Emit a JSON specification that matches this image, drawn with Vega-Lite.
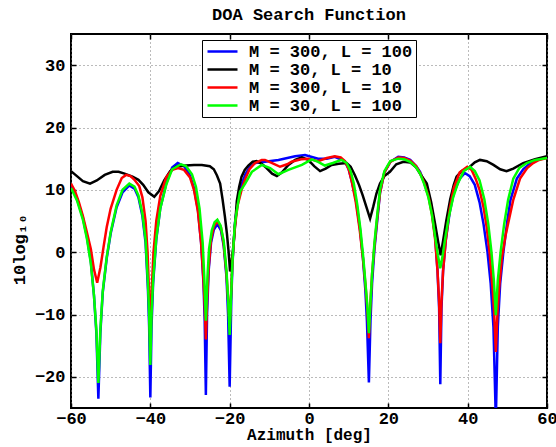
{
"$schema":"https://vega.github.io/schema/vega-lite/v6.json",
"width":476,"height":374,
"autosize":{"type":"none"},
"padding":{"left":71,"top":34,"right":9,"bottom":39},
"background":"white",
"title":{"text":"DOA Search Function","font":"Liberation Mono","fontSize":17,"fontWeight":"bold","anchor":"middle","frame":"group","offset":9,"color":"black"},
"config":{"view":{"stroke":"black","strokeWidth":2},
"axis":{"labelFont":"Liberation Mono","labelFontSize":17,"labelFontWeight":"bold","labelColor":"black","labelFlush":false,"titleFont":"Liberation Mono","titleFontSize":17,"titleFontWeight":"bold","titleColor":"black","tickColor":"black","tickWidth":1.5,"tickSize":-5,"domain":false,"gridColor":"#777777","gridDash":[1,3],"gridWidth":1}},
"datasets":{"d":[
{"s":"M = 300, L = 100","az":-60,"v":10.5},{"s":"M = 300, L = 100","az":-58.5,"v":8.6},{"s":"M = 300, L = 100","az":-57,"v":5.5},{"s":"M = 300, L = 100","az":-56,"v":2.5},{"s":"M = 300, L = 100","az":-55,"v":-1.5},{"s":"M = 300, L = 100","az":-54.2,"v":-7},{"s":"M = 300, L = 100","az":-53.6,"v":-13},{"s":"M = 300, L = 100","az":-53.1,"v":-23.5},{"s":"M = 300, L = 100","az":-52.6,"v":-13},{"s":"M = 300, L = 100","az":-52,"v":-6.5},{"s":"M = 300, L = 100","az":-51,"v":-1},{"s":"M = 300, L = 100","az":-50,"v":3},{"s":"M = 300, L = 100","az":-48.5,"v":7.2},{"s":"M = 300, L = 100","az":-47,"v":9.6},{"s":"M = 300, L = 100","az":-45.3,"v":10.7},{"s":"M = 300, L = 100","az":-44,"v":10.2},{"s":"M = 300, L = 100","az":-43,"v":8.8},{"s":"M = 300, L = 100","az":-42,"v":5.8},{"s":"M = 300, L = 100","az":-41.2,"v":1.5},{"s":"M = 300, L = 100","az":-40.6,"v":-6},{"s":"M = 300, L = 100","az":-40.3,"v":-12},{"s":"M = 300, L = 100","az":-40,"v":-23.3},{"s":"M = 300, L = 100","az":-39.7,"v":-12},{"s":"M = 300, L = 100","az":-39.3,"v":-5},{"s":"M = 300, L = 100","az":-38.5,"v":2},{"s":"M = 300, L = 100","az":-37.5,"v":7},{"s":"M = 300, L = 100","az":-36,"v":11},{"s":"M = 300, L = 100","az":-34.5,"v":13.6},{"s":"M = 300, L = 100","az":-33.1,"v":14.3},{"s":"M = 300, L = 100","az":-31.5,"v":13.8},{"s":"M = 300, L = 100","az":-30,"v":12.3},{"s":"M = 300, L = 100","az":-29,"v":10.3},{"s":"M = 300, L = 100","az":-28,"v":6.8},{"s":"M = 300, L = 100","az":-27.2,"v":1.5},{"s":"M = 300, L = 100","az":-26.6,"v":-5},{"s":"M = 300, L = 100","az":-26.3,"v":-11},{"s":"M = 300, L = 100","az":-26,"v":-22.9},{"s":"M = 300, L = 100","az":-25.7,"v":-10},{"s":"M = 300, L = 100","az":-25.3,"v":-3},{"s":"M = 300, L = 100","az":-24.7,"v":1.5},{"s":"M = 300, L = 100","az":-24,"v":3.6},{"s":"M = 300, L = 100","az":-23.1,"v":4.5},{"s":"M = 300, L = 100","az":-22.2,"v":3.5},{"s":"M = 300, L = 100","az":-21.5,"v":1},{"s":"M = 300, L = 100","az":-20.8,"v":-4},{"s":"M = 300, L = 100","az":-20.4,"v":-10},{"s":"M = 300, L = 100","az":-20,"v":-21.6},{"s":"M = 300, L = 100","az":-19.6,"v":-8},{"s":"M = 300, L = 100","az":-19.3,"v":-2},{"s":"M = 300, L = 100","az":-18.7,"v":4.5},{"s":"M = 300, L = 100","az":-18,"v":8},{"s":"M = 300, L = 100","az":-17,"v":10.8},{"s":"M = 300, L = 100","az":-16.1,"v":12.4},{"s":"M = 300, L = 100","az":-15,"v":13.6},{"s":"M = 300, L = 100","az":-13.6,"v":14.3},{"s":"M = 300, L = 100","az":-11.1,"v":14.5},{"s":"M = 300, L = 100","az":-7.7,"v":14.8},{"s":"M = 300, L = 100","az":-3.5,"v":15.4},{"s":"M = 300, L = 100","az":-1,"v":15.6},{"s":"M = 300, L = 100","az":2.3,"v":15},{"s":"M = 300, L = 100","az":4.5,"v":15},{"s":"M = 300, L = 100","az":6.5,"v":15.3},{"s":"M = 300, L = 100","az":9,"v":14.6},{"s":"M = 300, L = 100","az":10,"v":13.3},{"s":"M = 300, L = 100","az":10.8,"v":11.3},{"s":"M = 300, L = 100","az":11.8,"v":8.5},{"s":"M = 300, L = 100","az":12.8,"v":4},{"s":"M = 300, L = 100","az":13.6,"v":-1},{"s":"M = 300, L = 100","az":14.2,"v":-6},{"s":"M = 300, L = 100","az":14.6,"v":-11},{"s":"M = 300, L = 100","az":15.1,"v":-20.9},{"s":"M = 300, L = 100","az":15.5,"v":-11},{"s":"M = 300, L = 100","az":15.9,"v":-5},{"s":"M = 300, L = 100","az":16.5,"v":0.5},{"s":"M = 300, L = 100","az":17.2,"v":5},{"s":"M = 300, L = 100","az":17.9,"v":9.5},{"s":"M = 300, L = 100","az":19,"v":12.8},{"s":"M = 300, L = 100","az":20.5,"v":14.5},{"s":"M = 300, L = 100","az":22.5,"v":15.3},{"s":"M = 300, L = 100","az":24,"v":15.2},{"s":"M = 300, L = 100","az":25.5,"v":14.8},{"s":"M = 300, L = 100","az":27,"v":13.8},{"s":"M = 300, L = 100","az":28,"v":12.9},{"s":"M = 300, L = 100","az":29,"v":11.3},{"s":"M = 300, L = 100","az":30.1,"v":9.2},{"s":"M = 300, L = 100","az":31,"v":6.5},{"s":"M = 300, L = 100","az":31.8,"v":2.5},{"s":"M = 300, L = 100","az":32.4,"v":-3},{"s":"M = 300, L = 100","az":32.8,"v":-9},{"s":"M = 300, L = 100","az":33.1,"v":-21.2},{"s":"M = 300, L = 100","az":33.4,"v":-9},{"s":"M = 300, L = 100","az":33.8,"v":-3},{"s":"M = 300, L = 100","az":34.5,"v":2},{"s":"M = 300, L = 100","az":35.5,"v":6.5},{"s":"M = 300, L = 100","az":36.5,"v":9.5},{"s":"M = 300, L = 100","az":38,"v":11.8},{"s":"M = 300, L = 100","az":39.3,"v":12.7},{"s":"M = 300, L = 100","az":40.5,"v":12.2},{"s":"M = 300, L = 100","az":41.8,"v":10.8},{"s":"M = 300, L = 100","az":43,"v":8},{"s":"M = 300, L = 100","az":44,"v":4.5},{"s":"M = 300, L = 100","az":45,"v":0},{"s":"M = 300, L = 100","az":45.8,"v":-5},{"s":"M = 300, L = 100","az":46.5,"v":-12},{"s":"M = 300, L = 100","az":47.1,"v":-27},{"s":"M = 300, L = 100","az":47.6,"v":-12},{"s":"M = 300, L = 100","az":48.2,"v":-5},{"s":"M = 300, L = 100","az":49,"v":0},{"s":"M = 300, L = 100","az":50,"v":5},{"s":"M = 300, L = 100","az":50.8,"v":8.4},{"s":"M = 300, L = 100","az":52.4,"v":11.8},{"s":"M = 300, L = 100","az":54,"v":13.3},{"s":"M = 300, L = 100","az":55.8,"v":14.3},{"s":"M = 300, L = 100","az":58,"v":14.9},{"s":"M = 300, L = 100","az":60,"v":15.2},
{"s":"M = 30, L = 10","az":-60,"v":13},{"s":"M = 30, L = 10","az":-58.5,"v":12.2},{"s":"M = 30, L = 10","az":-57,"v":11.4},{"s":"M = 30, L = 10","az":-55.2,"v":11},{"s":"M = 30, L = 10","az":-53.5,"v":11.5},{"s":"M = 30, L = 10","az":-51.5,"v":12.4},{"s":"M = 30, L = 10","az":-49.5,"v":12.9},{"s":"M = 30, L = 10","az":-48,"v":12.9},{"s":"M = 30, L = 10","az":-46.5,"v":12.6},{"s":"M = 30, L = 10","az":-44.5,"v":12.1},{"s":"M = 30, L = 10","az":-43,"v":11.6},{"s":"M = 30, L = 10","az":-41.8,"v":10.8},{"s":"M = 30, L = 10","az":-40.5,"v":9.6},{"s":"M = 30, L = 10","az":-39,"v":8.9},{"s":"M = 30, L = 10","az":-37.8,"v":9.8},{"s":"M = 30, L = 10","az":-36.5,"v":11.5},{"s":"M = 30, L = 10","az":-35,"v":13},{"s":"M = 30, L = 10","az":-33.5,"v":13.7},{"s":"M = 30, L = 10","az":-31,"v":13.9},{"s":"M = 30, L = 10","az":-29,"v":14},{"s":"M = 30, L = 10","az":-27,"v":14},{"s":"M = 30, L = 10","az":-25,"v":13.8},{"s":"M = 30, L = 10","az":-24,"v":13.3},{"s":"M = 30, L = 10","az":-23.2,"v":12.3},{"s":"M = 30, L = 10","az":-22.4,"v":11},{"s":"M = 30, L = 10","az":-21.8,"v":8.5},{"s":"M = 30, L = 10","az":-21.2,"v":5.7},{"s":"M = 30, L = 10","az":-20.7,"v":3},{"s":"M = 30, L = 10","az":-20.3,"v":0.3},{"s":"M = 30, L = 10","az":-19.9,"v":-3.1},{"s":"M = 30, L = 10","az":-19.5,"v":-1.5},{"s":"M = 30, L = 10","az":-19.1,"v":0.8},{"s":"M = 30, L = 10","az":-18.6,"v":4.5},{"s":"M = 30, L = 10","az":-18.2,"v":8.2},{"s":"M = 30, L = 10","az":-17.6,"v":10.5},{"s":"M = 30, L = 10","az":-17,"v":12.1},{"s":"M = 30, L = 10","az":-16.2,"v":13.2},{"s":"M = 30, L = 10","az":-15.3,"v":13.9},{"s":"M = 30, L = 10","az":-14.2,"v":14.5},{"s":"M = 30, L = 10","az":-13.2,"v":14.6},{"s":"M = 30, L = 10","az":-12,"v":14.2},{"s":"M = 30, L = 10","az":-10.7,"v":13.5},{"s":"M = 30, L = 10","az":-9.3,"v":12.6},{"s":"M = 30, L = 10","az":-8.1,"v":12.2},{"s":"M = 30, L = 10","az":-6.8,"v":12.8},{"s":"M = 30, L = 10","az":-5.2,"v":14},{"s":"M = 30, L = 10","az":-3.5,"v":14.8},{"s":"M = 30, L = 10","az":-1.8,"v":15.2},{"s":"M = 30, L = 10","az":-0.2,"v":14.8},{"s":"M = 30, L = 10","az":1.3,"v":13.8},{"s":"M = 30, L = 10","az":2.8,"v":13},{"s":"M = 30, L = 10","az":4.2,"v":13.4},{"s":"M = 30, L = 10","az":5.7,"v":14},{"s":"M = 30, L = 10","az":7.5,"v":14.2},{"s":"M = 30, L = 10","az":9.5,"v":14.3},{"s":"M = 30, L = 10","az":10.5,"v":13.7},{"s":"M = 30, L = 10","az":11.6,"v":12.3},{"s":"M = 30, L = 10","az":12.6,"v":10.8},{"s":"M = 30, L = 10","az":13.5,"v":9.2},{"s":"M = 30, L = 10","az":14.5,"v":7.2},{"s":"M = 30, L = 10","az":15.4,"v":5.4},{"s":"M = 30, L = 10","az":16.2,"v":7.3},{"s":"M = 30, L = 10","az":17,"v":9.4},{"s":"M = 30, L = 10","az":17.9,"v":11},{"s":"M = 30, L = 10","az":19,"v":12.2},{"s":"M = 30, L = 10","az":20.4,"v":12.9},{"s":"M = 30, L = 10","az":22,"v":14.1},{"s":"M = 30, L = 10","az":23.8,"v":14.5},{"s":"M = 30, L = 10","az":25.5,"v":14.4},{"s":"M = 30, L = 10","az":27,"v":13.6},{"s":"M = 30, L = 10","az":28.1,"v":12.5},{"s":"M = 30, L = 10","az":29.7,"v":11},{"s":"M = 30, L = 10","az":30.8,"v":8},{"s":"M = 30, L = 10","az":31.8,"v":4.5},{"s":"M = 30, L = 10","az":32.6,"v":1.5},{"s":"M = 30, L = 10","az":33.2,"v":-0.5},{"s":"M = 30, L = 10","az":33.8,"v":1.8},{"s":"M = 30, L = 10","az":34.6,"v":5},{"s":"M = 30, L = 10","az":35.6,"v":8.5},{"s":"M = 30, L = 10","az":36.5,"v":10.8},{"s":"M = 30, L = 10","az":37.2,"v":12.1},{"s":"M = 30, L = 10","az":38.5,"v":13},{"s":"M = 30, L = 10","az":40.2,"v":13.5},{"s":"M = 30, L = 10","az":41.8,"v":14.4},{"s":"M = 30, L = 10","az":43.1,"v":14.8},{"s":"M = 30, L = 10","az":44.8,"v":14.6},{"s":"M = 30, L = 10","az":46.5,"v":14},{"s":"M = 30, L = 10","az":48.2,"v":13.3},{"s":"M = 30, L = 10","az":49.8,"v":13},{"s":"M = 30, L = 10","az":51.5,"v":13.4},{"s":"M = 30, L = 10","az":54,"v":14.3},{"s":"M = 30, L = 10","az":57,"v":14.9},{"s":"M = 30, L = 10","az":60,"v":15.4},
{"s":"M = 300, L = 10","az":-60,"v":11},{"s":"M = 300, L = 10","az":-59,"v":9.8},{"s":"M = 300, L = 10","az":-58,"v":8},{"s":"M = 300, L = 10","az":-57,"v":5.8},{"s":"M = 300, L = 10","az":-56,"v":3.2},{"s":"M = 300, L = 10","az":-55,"v":0.5},{"s":"M = 300, L = 10","az":-54.2,"v":-2.8},{"s":"M = 300, L = 10","az":-53.4,"v":-4.9},{"s":"M = 300, L = 10","az":-52.6,"v":-2.5},{"s":"M = 300, L = 10","az":-51.8,"v":0.8},{"s":"M = 300, L = 10","az":-51,"v":4},{"s":"M = 300, L = 10","az":-50,"v":7},{"s":"M = 300, L = 10","az":-48.5,"v":10},{"s":"M = 300, L = 10","az":-47.2,"v":11.9},{"s":"M = 300, L = 10","az":-46.1,"v":12.4},{"s":"M = 300, L = 10","az":-45,"v":12.2},{"s":"M = 300, L = 10","az":-44,"v":11.6},{"s":"M = 300, L = 10","az":-42.8,"v":10.6},{"s":"M = 300, L = 10","az":-42,"v":8.8},{"s":"M = 300, L = 10","az":-41.2,"v":5},{"s":"M = 300, L = 10","az":-40.7,"v":0},{"s":"M = 300, L = 10","az":-40.35,"v":-6},{"s":"M = 300, L = 10","az":-40,"v":-15},{"s":"M = 300, L = 10","az":-39.65,"v":-6},{"s":"M = 300, L = 10","az":-39.2,"v":0},{"s":"M = 300, L = 10","az":-38.5,"v":5},{"s":"M = 300, L = 10","az":-37.5,"v":9},{"s":"M = 300, L = 10","az":-36,"v":12},{"s":"M = 300, L = 10","az":-34.5,"v":13.2},{"s":"M = 300, L = 10","az":-33,"v":13.5},{"s":"M = 300, L = 10","az":-31.5,"v":13.2},{"s":"M = 300, L = 10","az":-30,"v":12},{"s":"M = 300, L = 10","az":-29,"v":10},{"s":"M = 300, L = 10","az":-28,"v":6.5},{"s":"M = 300, L = 10","az":-27.2,"v":1.5},{"s":"M = 300, L = 10","az":-26.6,"v":-4.5},{"s":"M = 300, L = 10","az":-26.3,"v":-8.5},{"s":"M = 300, L = 10","az":-26,"v":-14},{"s":"M = 300, L = 10","az":-25.7,"v":-8},{"s":"M = 300, L = 10","az":-25.3,"v":-2.5},{"s":"M = 300, L = 10","az":-24.7,"v":2},{"s":"M = 300, L = 10","az":-24,"v":4.1},{"s":"M = 300, L = 10","az":-23.1,"v":5},{"s":"M = 300, L = 10","az":-22.2,"v":4},{"s":"M = 300, L = 10","az":-21.5,"v":1.3},{"s":"M = 300, L = 10","az":-20.8,"v":-3.5},{"s":"M = 300, L = 10","az":-20.4,"v":-7.5},{"s":"M = 300, L = 10","az":-20,"v":-12},{"s":"M = 300, L = 10","az":-19.6,"v":-6},{"s":"M = 300, L = 10","az":-19.3,"v":-1.5},{"s":"M = 300, L = 10","az":-18.7,"v":4},{"s":"M = 300, L = 10","az":-18,"v":7.5},{"s":"M = 300, L = 10","az":-17,"v":10},{"s":"M = 300, L = 10","az":-16.1,"v":11.7},{"s":"M = 300, L = 10","az":-15,"v":13.3},{"s":"M = 300, L = 10","az":-13.6,"v":14.3},{"s":"M = 300, L = 10","az":-11.9,"v":14.8},{"s":"M = 300, L = 10","az":-11.1,"v":14.8},{"s":"M = 300, L = 10","az":-9,"v":14.2},{"s":"M = 300, L = 10","az":-7.3,"v":13.7},{"s":"M = 300, L = 10","az":-5.5,"v":14.1},{"s":"M = 300, L = 10","az":-4.4,"v":14.5},{"s":"M = 300, L = 10","az":-2,"v":14.9},{"s":"M = 300, L = 10","az":-0.2,"v":15},{"s":"M = 300, L = 10","az":2.3,"v":14.6},{"s":"M = 300, L = 10","az":4.5,"v":15.1},{"s":"M = 300, L = 10","az":6.5,"v":15.4},{"s":"M = 300, L = 10","az":8,"v":15.2},{"s":"M = 300, L = 10","az":9.1,"v":14.6},{"s":"M = 300, L = 10","az":10,"v":13.3},{"s":"M = 300, L = 10","az":10.8,"v":11.3},{"s":"M = 300, L = 10","az":11.8,"v":8},{"s":"M = 300, L = 10","az":12.8,"v":3.5},{"s":"M = 300, L = 10","az":13.6,"v":-1},{"s":"M = 300, L = 10","az":14.2,"v":-5},{"s":"M = 300, L = 10","az":14.7,"v":-9},{"s":"M = 300, L = 10","az":15.1,"v":-13.8},{"s":"M = 300, L = 10","az":15.5,"v":-8},{"s":"M = 300, L = 10","az":15.9,"v":-3.5},{"s":"M = 300, L = 10","az":16.5,"v":1},{"s":"M = 300, L = 10","az":17.2,"v":5.5},{"s":"M = 300, L = 10","az":17.9,"v":9.5},{"s":"M = 300, L = 10","az":19,"v":12.8},{"s":"M = 300, L = 10","az":20.5,"v":14.5},{"s":"M = 300, L = 10","az":22.5,"v":15.2},{"s":"M = 300, L = 10","az":24,"v":15.1},{"s":"M = 300, L = 10","az":25.5,"v":14.7},{"s":"M = 300, L = 10","az":27,"v":13.8},{"s":"M = 300, L = 10","az":28,"v":12.7},{"s":"M = 300, L = 10","az":29,"v":11.2},{"s":"M = 300, L = 10","az":30.1,"v":9},{"s":"M = 300, L = 10","az":31,"v":6},{"s":"M = 300, L = 10","az":31.8,"v":2},{"s":"M = 300, L = 10","az":32.4,"v":-3},{"s":"M = 300, L = 10","az":32.8,"v":-8},{"s":"M = 300, L = 10","az":33.1,"v":-14.6},{"s":"M = 300, L = 10","az":33.4,"v":-8},{"s":"M = 300, L = 10","az":33.8,"v":-3},{"s":"M = 300, L = 10","az":34.5,"v":2},{"s":"M = 300, L = 10","az":35.5,"v":7},{"s":"M = 300, L = 10","az":36.5,"v":10.3},{"s":"M = 300, L = 10","az":38,"v":12.8},{"s":"M = 300, L = 10","az":39.9,"v":13.7},{"s":"M = 300, L = 10","az":41,"v":13.2},{"s":"M = 300, L = 10","az":42,"v":11.8},{"s":"M = 300, L = 10","az":43,"v":10},{"s":"M = 300, L = 10","az":44,"v":7.2},{"s":"M = 300, L = 10","az":44.8,"v":4},{"s":"M = 300, L = 10","az":45.6,"v":-0.5},{"s":"M = 300, L = 10","az":46.3,"v":-6},{"s":"M = 300, L = 10","az":46.7,"v":-10},{"s":"M = 300, L = 10","az":47.1,"v":-16},{"s":"M = 300, L = 10","az":47.5,"v":-10},{"s":"M = 300, L = 10","az":47.9,"v":-6},{"s":"M = 300, L = 10","az":48.6,"v":-1},{"s":"M = 300, L = 10","az":49.5,"v":2.5},{"s":"M = 300, L = 10","az":50.5,"v":5.5},{"s":"M = 300, L = 10","az":51.5,"v":8.4},{"s":"M = 300, L = 10","az":53.2,"v":11.8},{"s":"M = 300, L = 10","az":55,"v":13.5},{"s":"M = 300, L = 10","az":56.5,"v":14.3},{"s":"M = 300, L = 10","az":58,"v":14.8},{"s":"M = 300, L = 10","az":60,"v":15.1},
{"s":"M = 30, L = 100","az":-60,"v":10.3},{"s":"M = 30, L = 100","az":-58.5,"v":8.3},{"s":"M = 30, L = 100","az":-57,"v":5.2},{"s":"M = 30, L = 100","az":-56,"v":2.2},{"s":"M = 30, L = 100","az":-55,"v":-1.8},{"s":"M = 30, L = 100","az":-54.2,"v":-7},{"s":"M = 30, L = 100","az":-53.6,"v":-12.5},{"s":"M = 30, L = 100","az":-53.1,"v":-21},{"s":"M = 30, L = 100","az":-52.6,"v":-12.5},{"s":"M = 30, L = 100","az":-52,"v":-6.3},{"s":"M = 30, L = 100","az":-51,"v":-0.8},{"s":"M = 30, L = 100","az":-50,"v":3.2},{"s":"M = 30, L = 100","az":-48.5,"v":7.5},{"s":"M = 30, L = 100","az":-47,"v":10},{"s":"M = 30, L = 100","az":-45.3,"v":11},{"s":"M = 30, L = 100","az":-44,"v":10.5},{"s":"M = 30, L = 100","az":-43,"v":9.1},{"s":"M = 30, L = 100","az":-42,"v":6.2},{"s":"M = 30, L = 100","az":-41.2,"v":2},{"s":"M = 30, L = 100","az":-40.6,"v":-5},{"s":"M = 30, L = 100","az":-40.3,"v":-10},{"s":"M = 30, L = 100","az":-40,"v":-18.1},{"s":"M = 30, L = 100","az":-39.7,"v":-10},{"s":"M = 30, L = 100","az":-39.3,"v":-4.5},{"s":"M = 30, L = 100","az":-38.5,"v":2.2},{"s":"M = 30, L = 100","az":-37.5,"v":7},{"s":"M = 30, L = 100","az":-36,"v":10.8},{"s":"M = 30, L = 100","az":-34.5,"v":13.3},{"s":"M = 30, L = 100","az":-32.3,"v":14.1},{"s":"M = 30, L = 100","az":-31,"v":13.8},{"s":"M = 30, L = 100","az":-29.5,"v":12.5},{"s":"M = 30, L = 100","az":-28.5,"v":10.5},{"s":"M = 30, L = 100","az":-27.6,"v":7},{"s":"M = 30, L = 100","az":-26.8,"v":1.5},{"s":"M = 30, L = 100","az":-26.4,"v":-4},{"s":"M = 30, L = 100","az":-26,"v":-11},{"s":"M = 30, L = 100","az":-25.6,"v":-4},{"s":"M = 30, L = 100","az":-25.2,"v":0.5},{"s":"M = 30, L = 100","az":-24.5,"v":3.5},{"s":"M = 30, L = 100","az":-23.8,"v":4.8},{"s":"M = 30, L = 100","az":-23.1,"v":5.2},{"s":"M = 30, L = 100","az":-22.3,"v":4.3},{"s":"M = 30, L = 100","az":-21.5,"v":1.8},{"s":"M = 30, L = 100","az":-20.8,"v":-3},{"s":"M = 30, L = 100","az":-20.4,"v":-7.5},{"s":"M = 30, L = 100","az":-20,"v":-13.3},{"s":"M = 30, L = 100","az":-19.6,"v":-6.5},{"s":"M = 30, L = 100","az":-19.3,"v":-1.5},{"s":"M = 30, L = 100","az":-18.7,"v":4.5},{"s":"M = 30, L = 100","az":-18,"v":7.5},{"s":"M = 30, L = 100","az":-17.4,"v":9.7},{"s":"M = 30, L = 100","az":-16.1,"v":11},{"s":"M = 30, L = 100","az":-14.4,"v":12.9},{"s":"M = 30, L = 100","az":-11.9,"v":14},{"s":"M = 30, L = 100","az":-9.8,"v":13.5},{"s":"M = 30, L = 100","az":-7.7,"v":12.5},{"s":"M = 30, L = 100","az":-5.2,"v":13.2},{"s":"M = 30, L = 100","az":-1.8,"v":14},{"s":"M = 30, L = 100","az":0.7,"v":14.9},{"s":"M = 30, L = 100","az":2.3,"v":14.5},{"s":"M = 30, L = 100","az":4,"v":13.9},{"s":"M = 30, L = 100","az":6,"v":14.3},{"s":"M = 30, L = 100","az":8.2,"v":14.8},{"s":"M = 30, L = 100","az":9.5,"v":14.3},{"s":"M = 30, L = 100","az":10.5,"v":13},{"s":"M = 30, L = 100","az":11.3,"v":11},{"s":"M = 30, L = 100","az":12.2,"v":7.5},{"s":"M = 30, L = 100","az":13,"v":3.5},{"s":"M = 30, L = 100","az":13.7,"v":-1},{"s":"M = 30, L = 100","az":14.3,"v":-5.5},{"s":"M = 30, L = 100","az":14.7,"v":-8.5},{"s":"M = 30, L = 100","az":15.1,"v":-13},{"s":"M = 30, L = 100","az":15.5,"v":-8},{"s":"M = 30, L = 100","az":15.9,"v":-3.5},{"s":"M = 30, L = 100","az":16.5,"v":1.5},{"s":"M = 30, L = 100","az":17.2,"v":6},{"s":"M = 30, L = 100","az":17.9,"v":10},{"s":"M = 30, L = 100","az":19,"v":13},{"s":"M = 30, L = 100","az":20.5,"v":14.6},{"s":"M = 30, L = 100","az":22.5,"v":15},{"s":"M = 30, L = 100","az":24,"v":14.9},{"s":"M = 30, L = 100","az":25.5,"v":14.5},{"s":"M = 30, L = 100","az":27,"v":13.6},{"s":"M = 30, L = 100","az":28,"v":12.6},{"s":"M = 30, L = 100","az":29,"v":11},{"s":"M = 30, L = 100","az":30.1,"v":8.8},{"s":"M = 30, L = 100","az":31,"v":6},{"s":"M = 30, L = 100","az":31.8,"v":2.5},{"s":"M = 30, L = 100","az":32.5,"v":-0.5},{"s":"M = 30, L = 100","az":33.1,"v":-2.6},{"s":"M = 30, L = 100","az":33.7,"v":-0.5},{"s":"M = 30, L = 100","az":34.4,"v":2.5},{"s":"M = 30, L = 100","az":35.2,"v":5.5},{"s":"M = 30, L = 100","az":36.3,"v":8.7},{"s":"M = 30, L = 100","az":37.5,"v":11},{"s":"M = 30, L = 100","az":39,"v":13},{"s":"M = 30, L = 100","az":40.6,"v":13.7},{"s":"M = 30, L = 100","az":41.8,"v":13},{"s":"M = 30, L = 100","az":43,"v":11.5},{"s":"M = 30, L = 100","az":44.2,"v":8.5},{"s":"M = 30, L = 100","az":45.2,"v":4.5},{"s":"M = 30, L = 100","az":46,"v":0},{"s":"M = 30, L = 100","az":46.6,"v":-4.5},{"s":"M = 30, L = 100","az":47.1,"v":-10.1},{"s":"M = 30, L = 100","az":47.6,"v":-4.5},{"s":"M = 30, L = 100","az":48.3,"v":0},{"s":"M = 30, L = 100","az":49.2,"v":4.5},{"s":"M = 30, L = 100","az":50.2,"v":8.4},{"s":"M = 30, L = 100","az":51.5,"v":11.8},{"s":"M = 30, L = 100","az":53,"v":13.5},{"s":"M = 30, L = 100","az":54.9,"v":14.3},{"s":"M = 30, L = 100","az":57,"v":14.8},{"s":"M = 30, L = 100","az":60,"v":15.1}
]},
"data":{"name":"d"},
"layer":[
{"mark":{"type":"line","opacity":0,"clip":true},
 "encoding":{
  "x":{"field":"az","type":"quantitative","scale":{"domain":[-60,60],"nice":false,"zero":false},"axis":{"orient":"top","values":[-60,-40,-20,0,20,40,60],"labels":false,"grid":false,"title":null}},
  "y":{"field":"v","type":"quantitative","scale":{"domain":[-25,35],"nice":false,"zero":false},"axis":{"orient":"right","values":[-20,-10,0,10,20,30],"labels":false,"grid":false,"title":null}}
 }},
{"mark":{"type":"line","strokeWidth":2.5,"clip":true},
 "encoding":{
  "x":{"field":"az","type":"quantitative","scale":{"domain":[-60,60],"nice":false,"zero":false},"axis":{"orient":"bottom","values":[-60,-40,-20,0,20,40,60],"grid":true,"title":"Azimuth [deg]","titleFontSize":16,"labelPadding":7,"titlePadding":0}},
  "y":{"field":"v","type":"quantitative","scale":{"domain":[-25,35],"nice":false,"zero":false},"axis":{"orient":"left","values":[-20,-10,0,10,20,30],"grid":true,"title":"10log₁₀","titleY":215,"labelPadding":11,"titlePadding":6}},
  "color":{"field":"s","type":"nominal","sort":null,"scale":{"domain":["M = 300, L = 100","M = 30, L = 10","M = 300, L = 10","M = 30, L = 100"],"range":["#0000ff","#000000","#ff0000","#00ff00"]},
   "legend":{"orient":"none","legendX":131,"legendY":6,"title":null,"symbolType":"M-3,0H3","symbolSize":100,"symbolStrokeWidth":2.5,"symbolOffset":9,"labelFont":"Liberation Mono","labelFontSize":17,"labelFontWeight":"bold","labelColor":"black","labelLimit":400,"strokeColor":"black","fillColor":"white","padding":3,"rowPadding":0,"labelOffset":18,"cornerRadius":0}}
 }}
],
"resolve":{"axis":{"x":"independent","y":"independent"}}
}
